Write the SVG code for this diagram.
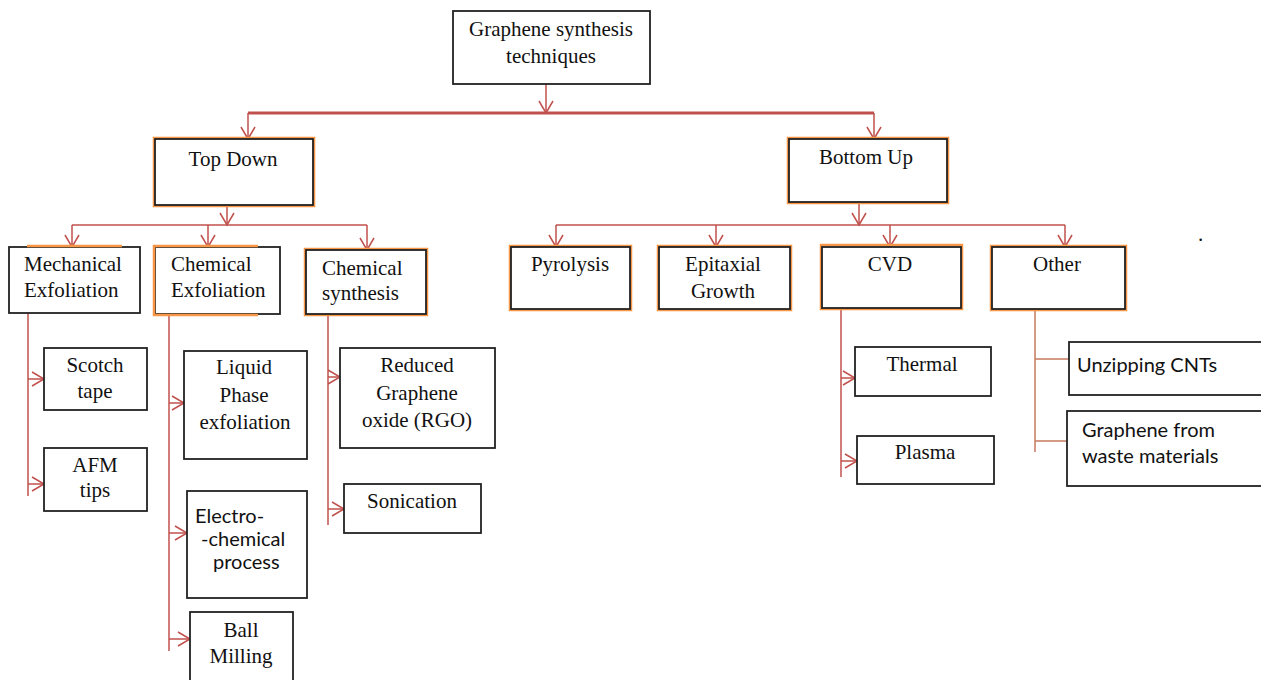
<svg xmlns="http://www.w3.org/2000/svg" width="1261" height="680" viewBox="0 0 1261 680">
<style>
.bx{fill:#fff;stroke:#222;stroke-width:1.8}
.or{fill:none;stroke:#f79646;stroke-width:2.5}
.t{font-family:"Liberation Serif","Times New Roman",serif;font-size:21px;fill:#111}
.s{font-family:Lato,"Liberation Sans",sans-serif;font-size:20px;fill:#111}
.m{text-anchor:middle}
.c{fill:none;stroke:#c0504d;stroke-width:1.5}
.c2{fill:none;stroke:#c87a5e;stroke-width:1.5}
.th{fill:none;stroke:#c0504d;stroke-width:3}
.a{marker-end:url(#ah)}
</style>
<defs>
<marker id="ah" viewBox="-14 -9 16 18" markerWidth="16" markerHeight="18" refX="0" refY="0" orient="auto" markerUnits="userSpaceOnUse">
<path d="M-12,-7 L0,0 L-12,7" fill="none" stroke="#c0504d" stroke-width="1.5"/>
</marker>
</defs>

<g id="connectors">
<path class="c a" d="M546,84 V113"/>
<path class="th" d="M248,113 H874"/>
<path class="c a" d="M248,113 V139"/>
<path class="c a" d="M874,113 V139"/>
<path class="c a" d="M227,205 V225"/>
<path class="c" d="M72,225 H367"/>
<path class="c a" d="M72,225 V247"/>
<path class="c a" d="M208,225 V247"/>
<path class="c a" d="M367,225 V250"/>
<path class="c a" d="M859,202 V225"/>
<path class="c" d="M556,225 H1065"/>
<path class="c a" d="M556,225 V247"/>
<path class="c a" d="M716,225 V247"/>
<path class="c a" d="M890,225 V247"/>
<path class="c a" d="M1065,225 V247"/>
<path class="c" d="M28,313 V496"/>
<path class="c a" d="M28,379 H44"/>
<path class="c a" d="M28,484 H44"/>
<path class="c" d="M169,314 V651"/>
<path class="c a" d="M169,403 H184"/>
<path class="c a" d="M169,533 H187"/>
<path class="c a" d="M169,639 H190"/>
<path class="c" d="M328,314 V525"/>
<path class="c a" d="M328,377 H340"/>
<path class="c a" d="M328,509 H344"/>
<path class="c" d="M841,308 V477"/>
<path class="c a" d="M841,378 H855"/>
<path class="c a" d="M841,461 H857"/>
<path class="c2" d="M1035,309 V452 M1035,359 H1069 M1035,441 H1067"/>
</g>

<g id="root">
<rect class="bx" x="453" y="11" width="197" height="73"/>
<text class="t m" x="551" y="36">Graphene synthesis</text>
<text class="t m" x="551" y="63">techniques</text>
</g>

<g id="topdown">
<rect class="or" x="154" y="138" width="160" height="68"/>
<rect class="bx" x="155" y="139" width="158" height="66"/>
<text class="t m" x="233" y="166">Top Down</text>
</g>

<g id="bottomup">
<rect class="or" x="788" y="138" width="160" height="65"/>
<rect class="bx" x="789" y="139" width="158" height="63"/>
<text class="t m" x="866" y="164">Bottom Up</text>
</g>

<g id="mechanical">
<rect class="bx" x="9" y="247" width="131" height="66"/>
<path class="or" d="M27,246 H122"/>
<text class="t" x="24" y="271">Mechanical</text>
<text class="t" x="24" y="297">Exfoliation</text>
</g>

<g id="chemexf">
<rect class="bx" x="155" y="247" width="125" height="67"/>
<path class="or" d="M258,246 H154 V315 H258"/>
<text class="t" x="171" y="271">Chemical</text>
<text class="t" x="171" y="297">Exfoliation</text>
</g>

<g id="chemsyn">
<rect class="or" x="305" y="249" width="122" height="66"/>
<rect class="bx" x="306" y="250" width="120" height="64"/>
<text class="t" x="322" y="275">Chemical</text>
<text class="t" x="322" y="300">synthesis</text>
</g>

<g id="scotch">
<rect class="bx" x="44" y="348" width="103" height="62"/>
<text class="t m" x="95" y="372">Scotch</text>
<text class="t m" x="95" y="398">tape</text>
</g>

<g id="afm">
<rect class="bx" x="44" y="448" width="103" height="63"/>
<text class="t m" x="95" y="472">AFM</text>
<text class="t m" x="95" y="497">tips</text>
</g>

<g id="liquid">
<rect class="bx" x="184" y="351" width="123" height="108"/>
<text class="t m" x="244" y="374">Liquid</text>
<text class="t m" x="244" y="402">Phase</text>
<text class="t m" x="245" y="429">exfoliation</text>
</g>

<g id="electro">
<rect class="bx" x="187" y="491" width="120" height="107"/>
<text class="s" x="195" y="523">Electro-</text>
<text class="s" x="201" y="546">-chemical</text>
<text class="s" x="213" y="569">process</text>
</g>

<g id="ball">
<rect class="bx" x="190" y="612" width="103" height="80"/>
<text class="t m" x="241" y="637">Ball</text>
<text class="t m" x="241" y="663">Milling</text>
</g>

<g id="rgo">
<rect class="bx" x="340" y="348" width="155" height="100"/>
<text class="t m" x="417" y="372">Reduced</text>
<text class="t m" x="417" y="400">Graphene</text>
<text class="t m" x="417" y="427">oxide (RGO)</text>
</g>

<g id="sonication">
<rect class="bx" x="344" y="484" width="137" height="49"/>
<text class="t m" x="412" y="508">Sonication</text>
</g>

<g id="pyrolysis">
<rect class="or" x="510" y="246" width="121" height="64"/>
<rect class="bx" x="511" y="247" width="119" height="62"/>
<text class="t m" x="570" y="271">Pyrolysis</text>
</g>

<g id="epitaxial">
<rect class="or" x="658" y="246" width="133" height="64"/>
<rect class="bx" x="659" y="247" width="131" height="62"/>
<text class="t m" x="723" y="271">Epitaxial</text>
<text class="t m" x="723" y="298">Growth</text>
</g>

<g id="cvd">
<rect class="or" x="821" y="245" width="141" height="64"/>
<rect class="bx" x="822" y="247" width="139" height="61"/>
<text class="t m" x="890" y="271">CVD</text>
</g>

<g id="other">
<rect class="or" x="991" y="246" width="135" height="64"/>
<rect class="bx" x="992" y="247" width="133" height="62"/>
<text class="t m" x="1057" y="271">Other</text>
</g>

<g id="thermal">
<rect class="bx" x="855" y="347" width="136" height="49"/>
<text class="t m" x="922" y="371">Thermal</text>
</g>

<g id="plasma">
<rect class="bx" x="857" y="436" width="137" height="48"/>
<text class="t m" x="925" y="459">Plasma</text>
</g>

<g id="unzipping">
<rect class="bx" x="1069" y="342" width="200" height="53"/>
<text class="s" x="1077" y="372">Unzipping CNTs</text>
</g>

<g id="waste">
<rect class="bx" x="1067" y="411" width="202" height="75"/>
<text class="s" x="1082" y="437">Graphene from</text>
<text class="s" x="1082" y="463">waste materials</text>
</g>

<text class="t" x="1198" y="241">.</text>
</svg>
